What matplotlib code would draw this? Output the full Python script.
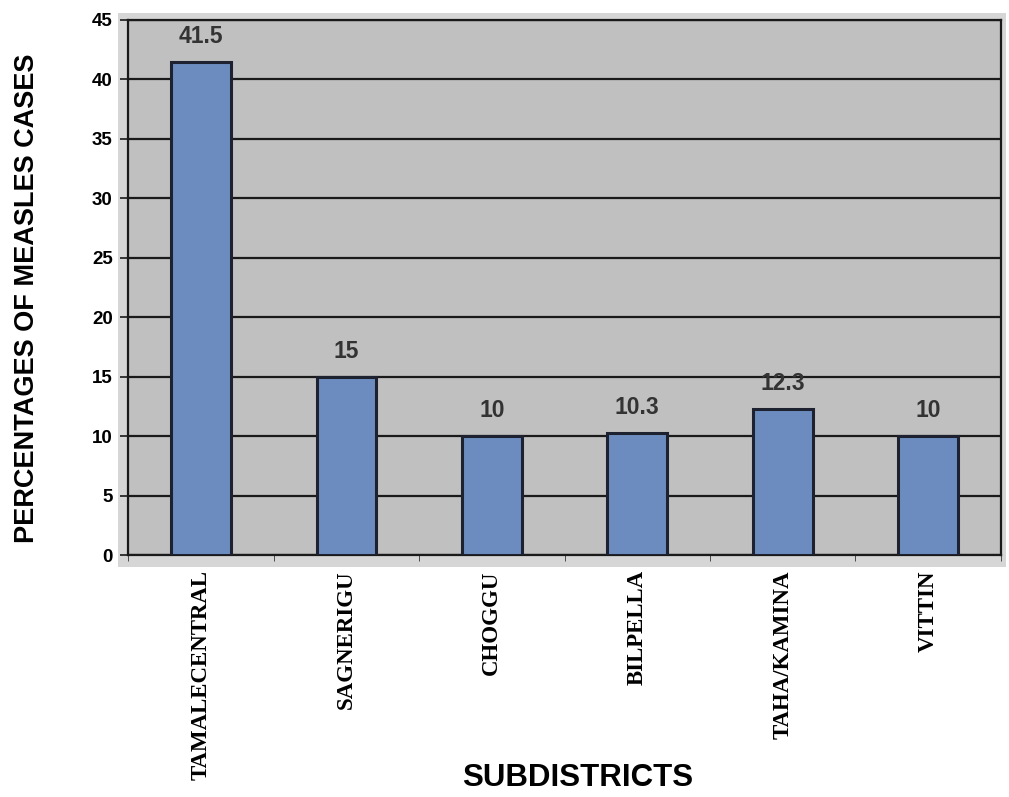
import matplotlib
matplotlib.use('Agg')
import numpy as np
import matplotlib.pyplot as plt
from matplotlib.patches import Rectangle

# Data
subdistricts = ['TAMALECENTRAL', 'SAGNERIGU', 'CHOGGU', 'BILPELLA', 'TAHA/KAMINA', 'VITTIN']
percentages = [41.5, 15, 10, 10.3, 12.3, 10]
value_labels = ['41.5', '15', '10', '10.3', '12.3', '10']
y_ticks = [0, 5, 10, 15, 20, 25, 30, 35, 40, 45]

fig = plt.figure(figsize=(10.09, 7.97), dpi=100)

# light band around the plot area
fig.patches.append(Rectangle((118 / 1009, 1 - 567 / 797), (1006 - 118) / 1009, (567 - 13) / 797,
                             transform=fig.transFigure, facecolor='#d6d6d6', edgecolor='none', zorder=-1))

ax = fig.add_axes([0.127, 0.3036, 0.865, 0.6714])
ax.set_zorder(2)
ax.set_facecolor('#c0c0c0')

x = np.arange(len(subdistricts))
ax.set_axisbelow(True)
ax.grid(True, axis='y', color='#1a1a1a', linewidth=1.6)
ax.bar(x, percentages, width=0.41, color='#6c8cbf', edgecolor='#1e2230', linewidth=2.2, zorder=3)

for xi, v, lab in zip(x, percentages, value_labels):
    ax.text(xi, v + 1.6, lab, ha='center', va='baseline', fontsize=16.5, fontweight='bold',
            color='#333333', family='Liberation Sans', zorder=4)

ax.set_xlim(-0.5, len(subdistricts) - 0.5)
ax.set_ylim(0, 45)
ax.set_yticks(y_ticks)
ax.set_yticklabels([str(t) for t in y_ticks], fontsize=13.5, fontweight='bold', family='Liberation Sans')
ax.set_xticks(x)
ax.set_xticklabels(subdistricts, rotation=90, fontsize=16.5, fontweight='bold', family='Liberation Serif')
ax.tick_params(axis='x', length=0, pad=11)
ax.set_xticks(np.arange(-0.5, len(subdistricts)), minor=True)
ax.tick_params(axis='x', which='minor', length=4, direction='out', color='#333333')
ax.tick_params(axis='y', length=6, width=1.2, color='#1a1a1a', pad=5)

for side in ['left', 'bottom', 'top', 'right']:
    ax.spines[side].set_color('#1a1a1a')
    ax.spines[side].set_linewidth(1.6)

fig.text(27 / 1009, 1 - 298 / 797, 'PERCENTAGES OF MEASLES CASES', rotation=90, ha='center', va='center',
         fontsize=19.5, fontweight='bold', family='Liberation Sans')
fig.text(578 / 1009, 1 - 778 / 797, 'SUBDISTRICTS', ha='center', va='center', fontsize=22.5,
         fontweight='bold', family='Liberation Sans')

plt.savefig('out.png')
